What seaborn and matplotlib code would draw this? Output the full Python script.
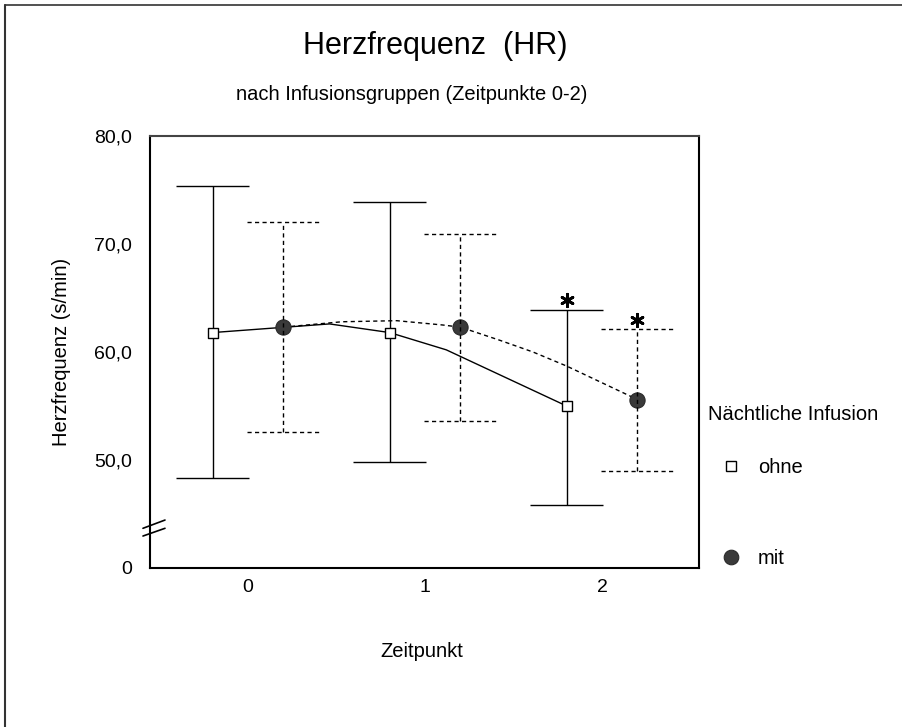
import matplotlib
matplotlib.use("Agg")
import matplotlib.pyplot as plt
import matplotlib.transforms as mtransforms
from matplotlib.lines import Line2D
import pandas as pd
import seaborn as sns

# ---------------- data ----------------
time_points = [0, 1, 2]
time_labels = ["0", "1", "2"]
groups = ["ohne", "mit"]

mean_ohne = [61.8, 61.8, 55.0]
upper_ohne = [75.4, 73.9, 63.9]
lower_ohne = [48.3, 49.8, 45.8]
signif_ohne = [False, False, True]

mean_mit = [62.3, 62.3, 55.6]
upper_mit = [72.0, 70.9, 62.1]
lower_mit = [52.6, 53.6, 49.0]
signif_mit = [False, False, True]

# smoothed connecting curves (vertices)
curve_ohne_t = [-0.2, 0.46, 0.8, 1.12, 1.8]
curve_ohne_hr = [61.8, 62.6, 61.8, 60.2, 55.0]
curve_mit_t = [0.2, 0.53, 0.84, 1.1, 1.2, 1.42, 1.61, 1.8, 2.2]
curve_mit_hr = [62.3, 62.8, 62.9, 62.5, 62.3, 61.1, 60.0, 58.7, 55.6]

ytick_values = [40, 50, 60, 70, 80]
ytick_labels = ["0", "50,0", "60,0", "70,0", "80,0"]

title = "Herzfrequenz  (HR)"
subtitle = "nach Infusionsgruppen (Zeitpunkte 0-2)"
xlabel = "Zeitpunkt"
ylabel = "Herzfrequenz (s/min)"
legend_title = "Nächtliche Infusion"

# ---------------- layout / style ----------------
W, H = 903, 727
DODGE = {"ohne": -0.2, "mit": 0.2}
CAP = 0.205
DASH = (0, (3.0, 2.4))
FS = 14.5

sns.set_theme(style="white")
plt.rcParams["font.family"] = ["Liberation Sans", "DejaVu Sans"]
plt.rcParams["text.color"] = "black"
plt.rcParams["axes.labelcolor"] = "black"
plt.rcParams["xtick.color"] = "black"
plt.rcParams["ytick.color"] = "black"

fig = plt.figure(figsize=(W / 100, H / 100), dpi=100)
fig.patch.set_facecolor("white")
ax = fig.add_axes([150 / W, 1 - 568 / H, 549 / W, 432 / H])
ax.set_facecolor("white")

rows = []
for g, means, los, his, sigs in [
    ("ohne", mean_ohne, lower_ohne, upper_ohne, signif_ohne),
    ("mit", mean_mit, lower_mit, upper_mit, signif_mit),
]:
    for t, m, lo, hi, s in zip(time_points, means, los, his, sigs):
        rows.append(dict(group=g, time=t, x=t + DODGE[g], hr=m, lo=lo, hi=hi, sig=s))
df = pd.DataFrame(rows)

curve_df = pd.DataFrame({
    "group": ["ohne"] * len(curve_ohne_t) + ["mit"] * len(curve_mit_t),
    "x": curve_ohne_t + curve_mit_t,
    "hr": curve_ohne_hr + curve_mit_hr,
})

# connecting curves
sns.lineplot(data=curve_df, x="x", y="hr", style="group", style_order=groups,
             dashes={"ohne": "", "mit": (3.0, 2.4)}, color="black", lw=1.0,
             sort=False, estimator=None, legend=False, ax=ax, zorder=2)

# error bars
for g, ls in [("ohne", "solid"), ("mit", DASH)]:
    sub = df[df.group == g]
    ax.vlines(sub.x, sub.lo, sub.hi, colors="black", linestyles=ls, lw=1.0, zorder=3)
    ax.hlines(sub.hi, sub.x - CAP, sub.x + CAP, colors="black", linestyles=ls, lw=1.0, zorder=3)
    ax.hlines(sub.lo, sub.x - CAP, sub.x + CAP, colors="black", linestyles=ls, lw=1.0, zorder=3)

# mean markers
sns.scatterplot(data=df[df.group == "mit"], x="x", y="hr", marker="o", s=120,
                color="#3a3a3a", edgecolor="#2a2a2a", linewidth=0.8, ax=ax,
                zorder=2.5, legend=False)
sns.scatterplot(data=df[df.group == "ohne"], x="x", y="hr", marker="s", s=52,
                color="white", edgecolor="black", linewidth=1.0, ax=ax,
                zorder=4, legend=False)

# significance asterisks above upper whisker
star_trans = mtransforms.offset_copy(ax.transData, fig=fig, y=9.5, units="dots")
sig_df = df[df.sig]
ax.scatter(sig_df.x, sig_df.hi, marker=(6, 2, 0), s=80, color="black",
           linewidths=2.0, transform=star_trans, zorder=5, clip_on=False)

# axes
ax.set_xlim(-0.554, 2.548)
ax.set_ylim(40, 80)
ax.set_xticks(time_points)
ax.set_xticklabels(time_labels)
ax.set_yticks(ytick_values)
ax.set_yticklabels(ytick_labels)
ax.tick_params(axis="both", labelsize=14, colors="black", labelcolor="black",
               width=1.5, direction="out")
ax.tick_params(axis="y", length=3, pad=10)
ax.tick_params(axis="x", length=3, pad=5)
ax.grid(False)
for side in ["left", "bottom", "right", "top"]:
    ax.spines[side].set_visible(True)
    ax.spines[side].set_linewidth(1.5)
    ax.spines[side].set_color("black")
ax.spines["top"].set_color("#444444")

ax.set_xlabel(xlabel, fontsize=FS, color="black")
ax.xaxis.label.set_verticalalignment("baseline")
ax.xaxis.set_label_coords((422 - 150) / 549, (568 - 657) / 432)
ax.set_ylabel(ylabel, fontsize=FS, color="black")
ax.yaxis.label.set_verticalalignment("center")
ax.yaxis.label.set_rotation_mode("anchor")
ax.yaxis.set_label_coords((61 - 150) / 549, 0.5)

# axis break marks on the y axis
for y0, y1 in [(0.0919, 0.111), (0.074, 0.0919)]:
    ax.add_line(Line2D([-0.0128, 0.0273], [y0, y1], transform=ax.transAxes,
                       color="black", lw=1.2, clip_on=False))

# titles
fig.text(435 / W, 1 - 54 / H, title, ha="center", va="baseline", fontsize=22, color="black")
fig.text(412 / W, 1 - 100.5 / H, subtitle, ha="center", va="baseline", fontsize=FS, color="black")

# legend
fig.text(708 / W, 1 - 420 / H, legend_title, ha="left", va="baseline", fontsize=FS, color="black")
handles = [
    Line2D([], [], ls="none", marker="s", markersize=6.5, markerfacecolor="white",
           markeredgecolor="black", markeredgewidth=1.0, label="ohne"),
    Line2D([], [], ls="none", marker="o", markersize=10.5, markerfacecolor="#3a3a3a",
           markeredgecolor="#2a2a2a", markeredgewidth=0.8, label="mit"),
]
leg = ax.legend(handles=handles, loc="upper left", bbox_to_anchor=(711 / W, 1 - 458 / H),
                bbox_transform=fig.transFigure, frameon=False, fontsize=FS,
                handlelength=2.0, handletextpad=0.33, labelspacing=3.6,
                borderpad=0, borderaxespad=0)
for txt in leg.get_texts():
    txt.set_color("black")

# outer frame (left and top edges visible)
fig.add_artist(Line2D([5 / W, 5 / W], [1 - 5 / H, 0], transform=fig.transFigure,
                      color="#333333", lw=1.5))
fig.add_artist(Line2D([5 / W, 1], [1 - 5 / H, 1 - 5 / H], transform=fig.transFigure,
                      color="#333333", lw=1.2))

fig.savefig("out.png", dpi=100, facecolor="white")
